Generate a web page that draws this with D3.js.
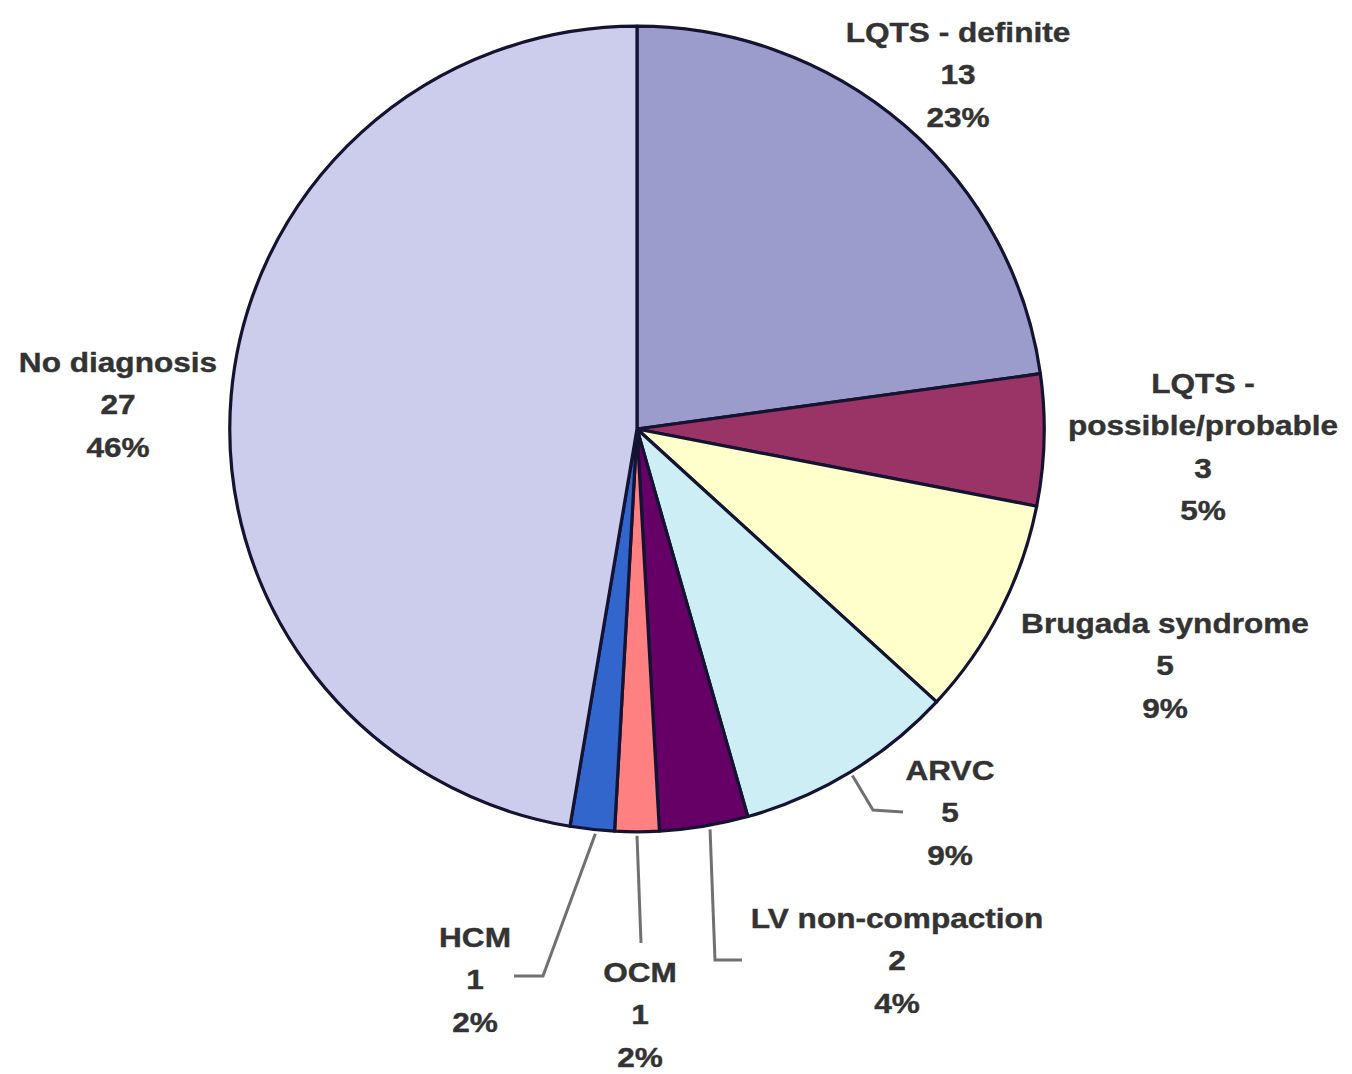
<!DOCTYPE html>
<html><head><meta charset="utf-8">
<script src="https://cdn.jsdelivr.net/npm/d3@7"></script>
<style>html,body{margin:0;padding:0;background:#fff;}svg{display:block;}</style>
</head><body>
<svg id="chart" width="1352" height="1074"></svg>
<script>
const categories = ["LQTS - definite","LQTS - possible/probable","Brugada syndrome","ARVC","LV non-compaction","OCM","HCM","No diagnosis"];
const counts = [13, 3, 5, 5, 2, 1, 1, 27];
const percents = ["23%","5%","9%","9%","4%","2%","2%","46%"];
const labelLines = [["LQTS - definite"],["LQTS -","possible/probable"],["Brugada syndrome"],["ARVC"],["LV non-compaction"],["OCM"],["HCM"],["No diagnosis"]];
const colors = ["#9c9ccc","#9a3366","#ffffcc","#cdeef5","#660066","#ff8080","#3366cc","#ccccec"];

const svg = d3.select("#chart");
const cx = 637, cy = 429, R = 404;
const sx = 1.008, sy = 0.997;
const g = svg.append("g").attr("transform", `translate(${cx},${cy}) scale(${sx},${sy})`);

const pie = d3.pie().sort(null).value(d => d)(counts);
const arc = d3.arc().innerRadius(0).outerRadius(R);

g.selectAll("path.slice").data(pie).join("path")
  .attr("class","slice")
  .attr("d", arc)
  .attr("fill", (d,i) => colors[i])
  .attr("stroke", "#141432")
  .attr("stroke-width", 3.2)
  .attr("stroke-linejoin","round");

function edgePt(i, frac) {
  const d = pie[i];
  const a = d.startAngle + (d.endAngle - d.startAngle) * frac;
  return [cx + Math.sin(a) * (R * sx + 4), cy - Math.cos(a) * (R * sy + 4)];
}
const leaders = [
  {i:3, frac:0.5,  pts: (p)=>[p, [873, 810], [903, 812]]},
  {i:4, frac:0.44, pts: (p)=>[p, [715, 960], [742, 960]]},
  {i:5, frac:0.5,  pts: (p)=>[p, [641, 943]]},
  {i:6, frac:0.42, pts: (p)=>[p, [543, 976], [514, 976]]}
];
const line = d3.line();
leaders.forEach(L => {
  svg.append("path").attr("d", line(L.pts(edgePt(L.i, L.frac))))
    .attr("fill","none").attr("stroke","#707070").attr("stroke-width",3);
});

const labelPos = [
  [958, 32], [1203, 383], [1165, 623], [950, 770], [897, 918], [640, 972], [475, 937], [118, 362]
];
const lh = 42.5;
labelPos.forEach((pos, i) => {
  const lines = [...labelLines[i], String(counts[i]), percents[i]];
  const t = svg.append("g").attr("transform", `translate(${pos[0]},${pos[1]})`);
  lines.forEach((s, k) => {
    t.append("text")
      .attr("x", 0).attr("y", k * lh)
      .attr("transform", "scale(1.17,1)")
      .attr("text-anchor", "middle")
      .attr("dominant-baseline", "central")
      .attr("font-family", "Liberation Sans, Arial, sans-serif")
      .attr("font-weight", "bold")
      .attr("font-size", 27)
      .attr("fill", "#333")
      .attr("stroke", "#333")
      .attr("stroke-width", 0.4)
      .text(s);
  });
});
</script>
</body></html>
